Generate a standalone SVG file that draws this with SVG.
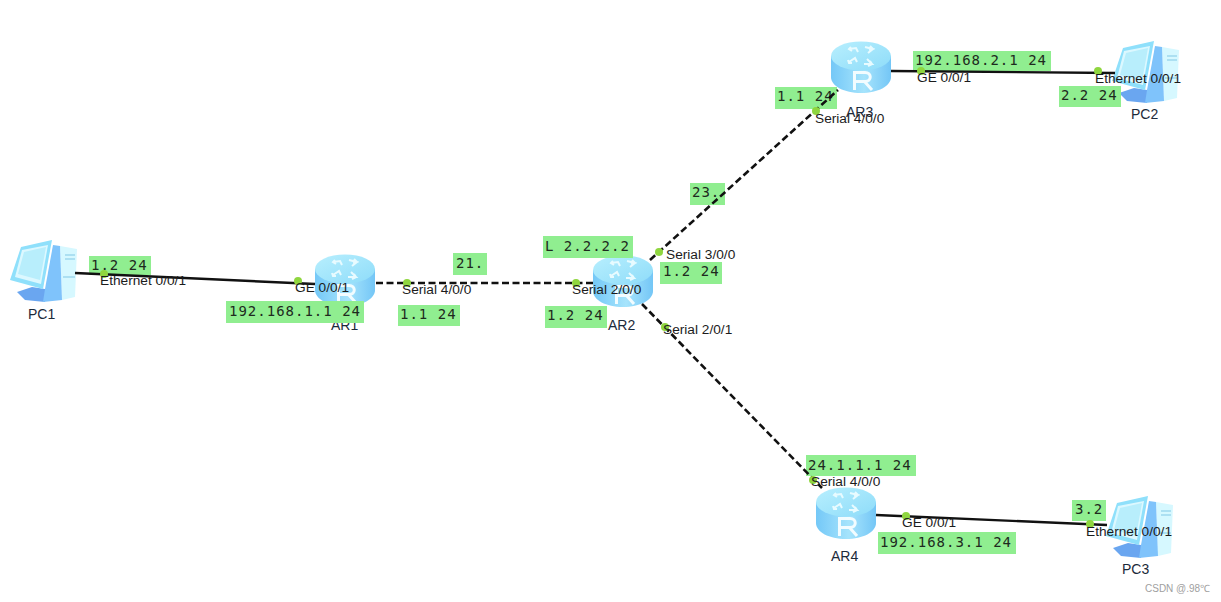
<svg xmlns="http://www.w3.org/2000/svg" width="1221" height="602" viewBox="0 0 1221 602">
<style>
.t{font:13.7px "Liberation Sans",Arial,sans-serif;fill:#1c1c1c}
.n{font:14px "Liberation Sans",Arial,sans-serif;fill:#1c2a3a}
.m{font:14px "DejaVu Sans Mono","Liberation Mono",monospace;letter-spacing:1px;fill:#1e2a1e}
.g{fill:#90ee90}
.s{stroke:#111;stroke-width:2.4;fill:none}
.d{stroke-dasharray:7 3.5;stroke-width:2.6}
.p{fill:#8fd63f}
</style>
<defs>
<linearGradient id="rb" x1="0" x2="1" y1="0" y2="0"><stop offset="0" stop-color="#74c8f7"/><stop offset=".55" stop-color="#a6e4fc"/><stop offset="1" stop-color="#74c6f6"/></linearGradient>
<linearGradient id="rt" x1="0" x2="1" y1="0" y2="1"><stop offset="0" stop-color="#b8effe"/><stop offset="1" stop-color="#8edcf9"/></linearGradient>
<g id="router">
<path d="M0 16V37C0 46 13 53 30 53S60 46 60 37V16Z" fill="url(#rb)"/>
<ellipse cx="30" cy="16" rx="30" ry="14.5" fill="url(#rt)"/>
<g fill="none" stroke="#e8fbff" stroke-width="2">
<path d="M18 9L25 8 27 12M20 7L18 9 21 11"/><path d="M34 7L42 9 37 13M39 6L42 9 38 10"/>
<path d="M18 22L24 18 26 22M17 20L18 23 21 23"/><path d="M33 24L41 24 36 19M39 21L41 24 37 26"/>
</g>
<path d="M23.500 50V32.500H34C41 32.500 41 41.500 34 41.500H25M33.500 41.500L41 50" fill="none" stroke="#f2fcff" stroke-width="3"/>
</g>
<g id="pc">
<path d="M7 54L22 49 35 51V64L15 62Z" fill="#6aa6f0"/>
<path d="M50 8L67 11 65 59 52 62Z" fill="#d6f8ff"/>
<path d="M43 7L50 8 52 62 33 64 35 51Z" fill="#7fc3fb"/>
<path d="M11 9L42 2 33 51 0 42Z" fill="#8fe0fb"/>
<path d="M12 12L38 7 31 46 5 39Z" fill="#dcf8ff"/>
<path d="M14 14L36 9 30 42 8 36Z" fill="#b8eefc"/>
<path d="M55 17H65M55 21H65M53 39H65" stroke="#9ed7ee" stroke-width="1.300"/>
</g>
</defs>
<rect width="1221" height="602" fill="#fff"/>
<g id="AR1"><use href="#router" x="315" y="253"/><text class="n" x="331" y="330">AR1</text></g>
<g id="AR2"><use href="#router" x="593" y="254"/><text class="n" x="608" y="330">AR2</text></g>
<g id="AR3"><use href="#router" x="831" y="40"/><text class="n" x="846" y="117">AR3</text></g>
<g id="AR4"><use href="#router" x="816" y="486"/><text class="n" x="831" y="561">AR4</text></g>
<g id="PC1"><use href="#pc" x="10" y="238"/><text class="n" x="28" y="319">PC1</text></g>
<g id="PC2"><use href="#pc" x="1112" y="39"/><text class="n" x="1131" y="119">PC2</text></g>
<g id="PC3"><use href="#pc" x="1106" y="494"/><text class="n" x="1122" y="574">PC3</text></g>
<g id="labels">
<rect class="g" x="89" y="256" width="62" height="19"/><text class="m" x="91" y="270">1.2 24</text>
<rect class="g" x="226" y="301" width="138" height="22"/><text class="m" x="229" y="316">192.168.1.1 24</text>
<rect class="g" x="398" y="305" width="62" height="21"/><text class="m" x="400" y="319">1.1 24</text>
<rect class="g" x="453" y="253" width="34" height="22"/><text class="m" x="456" y="268">21.</text>
<rect class="g" x="543" y="236" width="90" height="22"/><text class="m" x="545" y="251">L 2.2.2.2</text>
<rect class="g" x="545" y="306" width="62" height="22"/><text class="m" x="547" y="320">1.2 24</text>
<rect class="g" x="660" y="262" width="62" height="22"/><text class="m" x="663" y="276">1.2 24</text>
<rect class="g" x="690" y="183" width="35" height="22"/><text class="m" x="692" y="197">23.</text>
<rect class="g" x="775" y="87" width="62" height="22"/><text class="m" x="777" y="101">1.1 24</text>
<rect class="g" x="913" y="51" width="138" height="20"/><text class="m" x="915" y="65">192.168.2.1 24</text>
<rect class="g" x="1059" y="86" width="62" height="21"/><text class="m" x="1061" y="100">2.2 24</text>
<rect class="g" x="806" y="455" width="110" height="21"/><text class="m" x="808" y="470">24.1.1.1 24</text>
<rect class="g" x="1072" y="500" width="34" height="21"/><text class="m" x="1075" y="514">3.2</text>
<rect class="g" x="878" y="532" width="138" height="22"/><text class="m" x="880" y="547">192.168.3.1 24</text>
</g>
<g id="connectors">
<path class="s" d="M75 273L315 284"/>
<path class="s d" d="M376 283H593"/>
<path class="s d" d="M650 260L838 90"/>
<path class="s d" d="M642 304L822 488"/>
<path class="s" d="M891 71L1115 73"/>
<path class="s" d="M876 515L1107 525"/>
</g>
<g id="ports">
<circle class="p" cx="298" cy="281" r="4"/><circle class="p" cx="104" cy="274" r="4"/>
<circle class="p" cx="407" cy="283" r="4"/><circle class="p" cx="576" cy="283" r="4"/>
<circle class="p" cx="659" cy="252" r="4"/><circle class="p" cx="665" cy="327" r="4"/>
<circle class="p" cx="816" cy="111" r="4"/><circle class="p" cx="921" cy="71" r="4"/>
<circle class="p" cx="1098" cy="71" r="4"/><circle class="p" cx="813" cy="480" r="4"/>
<circle class="p" cx="906" cy="516" r="4"/><circle class="p" cx="1090" cy="524" r="4"/>
</g>
<g id="port-labels">
<text class="t" x="100" y="285">Ethernet 0/0/1</text>
<text class="t" x="295" y="292">GE 0/0/1</text>
<text class="t" x="402" y="294">Serial 4/0/0</text>
<text class="t" x="572" y="294">Serial 2/0/0</text>
<text class="t" x="666" y="259">Serial 3/0/0</text>
<text class="t" x="663" y="334">Serial 2/0/1</text>
<text class="t" x="815" y="123">Serial 4/0/0</text>
<text class="t" x="917" y="82">GE 0/0/1</text>
<text class="t" x="1095" y="83">Ethernet 0/0/1</text>
<text class="t" x="811" y="486">Serial 4/0/0</text>
<text class="t" x="902" y="527">GE 0/0/1</text>
<text class="t" x="1086" y="536">Ethernet 0/0/1</text>
<text x="1145" y="592" style="font:10px 'Liberation Sans',Arial,sans-serif;fill:#a0a0a0">CSDN @.98℃</text>
</g>
</svg>
